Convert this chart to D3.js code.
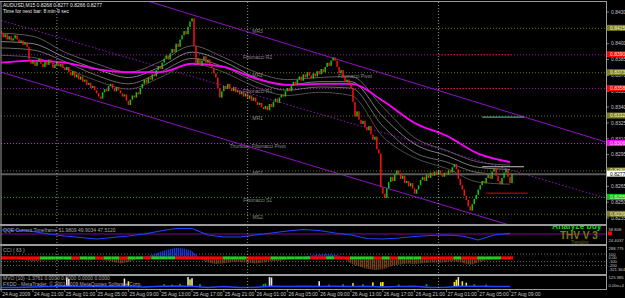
<!DOCTYPE html>
<html>
<head>
<meta charset="utf-8">
<script src="https://cdn.jsdelivr.net/npm/d3@7"></script>
<style>
  body { margin: 0; background: #000; }
  svg { display: block; font-family: "Liberation Sans", Arial, sans-serif; }
</style>
</head>
<body>
<div id="vis"></div>
<script>
// ---- data (prices written in pips, 8410 = 0.8410) ----
const SYMBOL = 'AUDUSD,M15';
const LAST_OHLC = [0.8268, 0.8277, 0.8266, 0.8277];
const NEXT_BAR = 'Time for next bar: 8 min 9 sec';

const FIRST_OPEN = 8412;
// one close per 15 minute bar, 24 Aug 17:00 -> 27 Aug 09:15
const CLOSES = [
  8410, 8406, 8409, 8404, 8407, 8403, 8405, 8408, 8404, 8401, 8403, 8399, 8401, 8397, 8385, 8381,
  8384, 8379, 8383, 8386, 8381, 8378, 8383, 8380, 8385, 8382, 8377, 8380, 8383, 8379, 8381, 8377,
  8375, 8378, 8373, 8370, 8374, 8368, 8371, 8366, 8369, 8364, 8366, 8361, 8363, 8358, 8360, 8356,
  8353, 8350, 8348, 8354, 8357, 8355, 8360, 8362, 8358, 8355, 8359, 8356, 8353, 8350, 8352, 8346,
  8342, 8347, 8351, 8349, 8354, 8352, 8358, 8362, 8366, 8363, 8368, 8366, 8371, 8369, 8375, 8379,
  8376, 8382, 8386, 8389, 8385, 8391, 8395, 8392, 8400, 8397, 8404, 8408, 8412, 8409, 8416, 8421,
  8424, 8398, 8381, 8386, 8379, 8384, 8388, 8382, 8385, 8380, 8377, 8372, 8368, 8358, 8349, 8355,
  8360, 8357, 8362, 8358, 8355, 8359, 8354, 8356, 8352, 8355, 8350, 8353, 8348, 8351, 8346, 8349,
  8345, 8342, 8344, 8340, 8338, 8341, 8337, 8343, 8340, 8345, 8348, 8344, 8349, 8352, 8350, 8355,
  8358, 8355, 8360, 8364, 8361, 8366, 8369, 8365, 8371, 8368, 8373, 8370, 8367, 8372, 8369, 8374,
  8371, 8376, 8373, 8378, 8382, 8379, 8384, 8387, 8384, 8378, 8372, 8375, 8368, 8364, 8366, 8361,
  8358, 8345, 8331, 8336, 8328, 8324, 8327, 8321, 8318, 8322, 8314, 8309, 8312, 8300, 8296, 8264,
  8258, 8254, 8263, 8269, 8274, 8270, 8276, 8280, 8277, 8272, 8275, 8268, 8270, 8265, 8268, 8263,
  8258, 8262, 8266, 8271, 8274, 8270, 8276, 8273, 8278, 8275, 8279, 8276, 8280, 8277, 8274, 8278,
  8276, 8280, 8278, 8283, 8286, 8281, 8272, 8266, 8262, 8256, 8252, 8246, 8242, 8248, 8253, 8257,
  8262, 8266, 8270, 8268, 8273, 8276, 8272, 8279, 8282, 8275, 8270, 8267, 8273, 8278, 8281, 8274, 8268, 8277
];

// moving average ribbon, sampled every 16 bars
const RIBBON_A = [8410, 8407, 8392, 8381, 8373, 8383, 8398, 8387, 8373, 8366, 8368, 8369, 8340, 8311, 8299, 8288, 8285];
const RIBBON_B = [8402, 8400, 8387, 8376, 8368, 8378, 8392, 8383, 8368, 8361, 8364, 8364, 8331, 8305, 8294, 8283, 8281];
const RIBBON_C = [8396, 8394, 8383, 8370, 8362, 8373, 8386, 8378, 8364, 8356, 8359, 8358, 8322, 8297, 8288, 8278, 8276];
const RIBBON_D = [8389, 8387, 8377, 8365, 8357, 8368, 8381, 8373, 8359, 8351, 8354, 8351, 8312, 8292, 8282, 8269, 8267];
const MA_SLOW  = [8382, 8384, 8382, 8376, 8373, 8373, 8381, 8378, 8367, 8361, 8362, 8362, 8346, 8325, 8313, 8296, 8288];

// channel lines: [bar, price] at both ends
const CHANNEL_UPPER = [[0, 8483], [304, 8307]];
const CHANNEL_MID = [[0, 8422], [304, 8254]];
const CHANNEL_LOWER = [[0, 8373], [304, 8201]];

// pivot levels
const PIVOT_NAMES = ['MR3', 'Fibonacci R2', 'MR2', 'Fibonacci R1', 'MR1', 'Thursday Fibonacci Pivot', 'MS1', 'Fibonacci S1', 'MS2'];
const PIVOT_VALUES = [8415, 8390, 8373, 8358, 8332, 8306, 8280, 8255, 8239];
const PIVOT_KINDS = ['mr', 'fr', 'mr', 'fr', 'mr', 'fp', 'mr', 'fs', 'mr'];
const OLD_PIVOT_NAME = 'Fibonacci Pivot';
const OLD_PIVOT_VALUE = 8372;

// short day levels at the right
const DAY_LEVELS = [8331, 8284, 8259];
const DAY_KINDS = ['hi', 'mid', 'lo'];

// price axis ticks
const PRICE_TICKS = [8430, 8415, 8400, 8385, 8370, 8355, 8340, 8325, 8310, 8295, 8280, 8265, 8250, 8235];

// time axis
const TIME_LABELS = ['24 Aug 2009', '24 Aug 21:00', '25 Aug 01:00', '25 Aug 05:00', '25 Aug 09:00', '25 Aug 13:00',
  '25 Aug 17:00', '25 Aug 21:00', '26 Aug 01:00', '26 Aug 05:00', '26 Aug 09:00', '26 Aug 13:00',
  '26 Aug 17:00', '26 Aug 21:00', '27 Aug 01:00', '27 Aug 05:00', '27 Aug 09:00'];
const DAY_START_BARS = [28, 124, 220];

// QQE, sampled every 8 bars
const QQE_TITLE = 'QQE Current Timeframe 51.9809 49.9034 47.5120';
const QQE = [63.3, 63.3, 58.3, 50, 43.3, 38.3, 33.3, 38.3, 43.3, 50, 60, 68.3, 68.3, 46.7, 40, 40, 46.7,
  53.3, 60, 65, 61.7, 53.3, 46.7, 35, 33.3, 36.7, 41.7, 45, 46.7, 43.3, 30, 46.7, 52.0];
const QQE_LEVEL = 50;
const QQE_AXIS = ['58.808', '24.4037'];

// CCI(63), sampled every 4 bars, with trend colour of the zero band
const CCI_TITLE = 'CCI ( 63 )';
const CCI = [20, 10, -20, -60, -90, -70, -60, -50, -40, -60, -50, -70, -40, -60, -100, -150, -110, -40, 40, 80,
  160, 220, 270, 250, 180, -30, -120, -160, -140, -110, -100, -130, -150, -120, -90, -80, -40, 10, 30, 60,
  90, 100, 80, 40, -150, -230, -290, -320, -300, -220, -180, -150, -160, -140, -120, -130, -110, -90, -130, -180,
  -120, -60, -40, -30, -20];
const CCI_TREND = 'rrrrrggggrggrggrggrgggrrrrrrgggrrrgggggrrgrrgggrgrgggrrrrgrrgggrr'.split('');
const CCI_MAX = 288.775;
const CCI_MIN = -321.364;
const CCI_LEVELS = [100, -100, -200];

// MVO(10) and volume spikes
const MVO_TITLE = 'MVO (10) -1.3761 0.0000 0.0000 0.0000 0.0000';
const COPYRIGHT = 'FXDD - MetaTrader, \u00a9 2001-2009 MetaQuotes Software Corp.';
const MVO = [-12, -12, -8, 0, 2, 0, 3, 0, 0, -8, 4, 6, 2, -12, 0, -12, -10, 4, 0, 3, 0, 2, 0, 3, -5, 0, 2, -12, -10, 4, 2, 0, 0];
const VOL_BARS = [33, 34, 62, 64, 82, 86, 90, 94, 95, 96, 100, 132, 133, 135, 136, 160, 165, 172, 177, 182, 187, 191, 192, 200, 214, 228, 229, 230, 232, 234, 238, 244];
const VOL_VALUES = [120, 100, 105, 70, 30, 25, 35, 125, 95, 110, 30, 30, 40, 125, 120, 70, 25, 30, 45, 30, 55, 55, 60, 25, 30, 60, 90, 125, 70, 50, 30, 25];
const VOL_KINDS = ['w', 'w', 'w', 'y', 'g', 'g', 'g', 'w', 'y', 'w', 'g', 'g', 'g', 'w', 'w', 'w', 'g', 'g', 'y', 'g', 'y', 'y', 'y', 'g', 'g', 'y', 'y', 'w', 'y', 'y', 'g', 'g'];
const VOL_MAX = 125.985;

// ---- setting up the frame ----
const FRAME_WIDTH = 625;
const FRAME_HEIGHT = 298;
const LEFT = 1;
const RIGHT = 606;
const PANELS = {main: [2, 224], qqe: [226, 244], cci: [246, 274], vol: [276, 289]};

const FRAME = d3.select('#vis')
  .append('svg')
    .attr('width', FRAME_WIDTH)
    .attr('height', FRAME_HEIGHT)
    .style('background', '#000');

const X_SCALE = d3.scaleLinear().domain([0, CLOSES.length - 1]).range([1.2, 512]);
const Y_SCALE = d3.scaleLinear().domain([8235, 8430]).range([218, 12]);
const QQE_SCALE = d3.scaleLinear().domain([20, 73.3]).range([243, 227]);
const CCI_SCALE = d3.scaleLinear().domain([CCI_MIN, CCI_MAX]).range([270, 247]);
const VOL_SCALE = d3.scaleLinear().domain([0, VOL_MAX]).range([286.5, 277]);

const fmt = (p) => (p / 10000).toFixed(4);

// clip paths for each window
const DEFS = FRAME.append('defs');
Object.keys(PANELS).forEach((k) => {
  DEFS.append('clipPath').attr('id', 'clip-' + k)
    .append('rect')
      .attr('x', LEFT).attr('y', PANELS[k][0])
      .attr('width', RIGHT - LEFT).attr('height', PANELS[k][1] - PANELS[k][0]);
});
function stripes(id, color) {
  DEFS.append('pattern').attr('id', id)
    .attr('patternUnits', 'userSpaceOnUse').attr('width', 2).attr('height', 4)
    .append('rect').attr('x', 0.2).attr('width', 1.1).attr('height', 4).attr('fill', color);
}
stripes('stripe-blue', '#1f3cff');
stripes('stripe-brown', '#8b4a22');

const MAIN = FRAME.append('g').attr('clip-path', 'url(#clip-main)');

// ---- main window ----
const PIVOT_LINE = {mr: '#6e6e00', fr: '#9a10b4', fp: '#d020d0', fs: '#2ea02e'};
const PIVOT_BOX = {mr: '#7d7d1e', fr: '#ff0000', fp: '#ff00ff', fs: '#10c010'};

// pivot dotted lines
MAIN.selectAll('.pivot')
  .data(PIVOT_VALUES)
  .enter()
  .append('line')
    .attr('x1', LEFT).attr('x2', RIGHT)
    .attr('y1', (d) => Y_SCALE(d) + 0.5).attr('y2', (d) => Y_SCALE(d) + 0.5)
    .attr('stroke', (d, i) => PIVOT_LINE[PIVOT_KINDS[i]])
    .attr('stroke-dasharray', '1,2');

// today's part of the fibonacci resistances is red
MAIN.selectAll('.pivot-today')
  .data(PIVOT_VALUES.filter((d, i) => PIVOT_KINDS[i] === 'fr'))
  .enter()
  .append('line')
    .attr('x1', X_SCALE(DAY_START_BARS[2])).attr('x2', X_SCALE(CLOSES.length - 1))
    .attr('y1', (d) => Y_SCALE(d) + 0.5).attr('y2', (d) => Y_SCALE(d) + 0.5)
    .attr('stroke', '#ff1a1a')
    .attr('stroke-dasharray', '1,2');

// pivot names
MAIN.selectAll('.pivot-name')
  .data(PIVOT_VALUES)
  .enter()
  .append('text')
    .attr('x', X_SCALE(129))
    .attr('y', (d) => Y_SCALE(d) + 4.8)
    .attr('text-anchor', 'middle')
    .attr('font-size', '5px')
    .attr('fill', '#8a8a8a')
    .text((d, i) => PIVOT_NAMES[i]);
MAIN.append('text')
  .attr('x', X_SCALE(178)).attr('y', Y_SCALE(OLD_PIVOT_VALUE) + 4.8)
  .attr('text-anchor', 'middle').attr('font-size', '5px').attr('fill', '#8a8a8a')
  .text(OLD_PIVOT_NAME);

// channel lines
const chan = d3.line().x((d) => X_SCALE(d[0])).y((d) => Y_SCALE(d[1]));
[[CHANNEL_UPPER, null], [CHANNEL_MID, '1.5,2'], [CHANNEL_LOWER, null]].forEach((c) => {
  MAIN.append('path')
    .attr('d', chan(c[0]))
    .attr('fill', 'none')
    .attr('stroke', '#9010c8')
    .attr('stroke-width', 1)
    .attr('stroke-dasharray', c[1]);
});

// ribbon and slow average
const SAMPLE16 = d3.range(0, CLOSES.length, 16);
const smooth = d3.line().x((d) => X_SCALE(d[0])).y((d) => Y_SCALE(d[1])).curve(d3.curveMonotoneX);
[[RIBBON_A, '#808080'], [RIBBON_B, '#b4b4b4'], [RIBBON_C, '#969696'], [RIBBON_D, '#707070']].forEach((r) => {
  MAIN.append('path')
    .attr('d', smooth(SAMPLE16.map((b, i) => [b, r[0][i]])))
    .attr('fill', 'none')
    .attr('stroke', r[1])
    .attr('stroke-width', 0.7);
});
MAIN.append('path')
  .attr('d', smooth(SAMPLE16.map((b, i) => [b, MA_SLOW[i]])))
  .attr('fill', 'none')
  .attr('stroke', '#ff00ff')
  .attr('stroke-width', 1.8);

// bid line
const LAST = CLOSES[CLOSES.length - 1];
MAIN.append('line')
  .attr('x1', LEFT).attr('x2', RIGHT)
  .attr('y1', Y_SCALE(LAST) + 0.5).attr('y2', Y_SCALE(LAST) + 0.5)
  .attr('stroke', '#5a5a5a').attr('stroke-width', 2);

// candles
const CANDLES = CLOSES.map((c, i) => ({i: i, open: i === 0 ? FIRST_OPEN : CLOSES[i - 1], close: c}));
MAIN.selectAll('.candle')
  .data(CANDLES)
  .enter()
  .append('rect')
    .attr('x', (d) => X_SCALE(d.i) - 0.75)
    .attr('width', 1.5)
    .attr('y', (d) => Y_SCALE(Math.max(d.open, d.close)))
    .attr('height', (d) => Math.max(1, Math.abs(Y_SCALE(d.open) - Y_SCALE(d.close))))
    .attr('fill', (d) => d.close >= d.open ? '#10c810' : '#ff1010');

// short day levels
const DAY_COLOR = {hi: '#6cc0b0', mid: '#c4c4c4', lo: '#e00000'};
MAIN.selectAll('.day-level')
  .data(DAY_LEVELS)
  .enter()
  .append('line')
    .attr('x1', (d, i) => X_SCALE(CLOSES.length - (DAY_KINDS[i] === 'lo' ? 14 : 16)))
    .attr('x2', (d, i) => X_SCALE(CLOSES.length + (DAY_KINDS[i] === 'lo' ? 7 : 5)))
    .attr('y1', (d) => Y_SCALE(d) + 0.5).attr('y2', (d) => Y_SCALE(d) + 0.5)
    .attr('stroke', (d, i) => DAY_COLOR[DAY_KINDS[i]])
    .attr('stroke-width', 1);

// chart titles
FRAME.append('text').attr('x', 3).attr('y', 7).attr('font-size', '5px').attr('fill', '#e8e8e8')
  .text(SYMBOL + '  ' + LAST_OHLC.map((d) => d.toFixed(4)).join(' '));
FRAME.append('text').attr('x', 3).attr('y', 12.5).attr('font-size', '5px').attr('fill', '#e8e8e8')
  .text(NEXT_BAR);

// ---- QQE window ----
const QQE_G = FRAME.append('g').attr('clip-path', 'url(#clip-qqe)');
QQE_G.append('line')
  .attr('x1', LEFT).attr('x2', RIGHT)
  .attr('y1', QQE_SCALE(QQE_LEVEL)).attr('y2', QQE_SCALE(QQE_LEVEL))
  .attr('stroke', '#7a0a9a').attr('stroke-width', 1);
const SAMPLE8 = d3.range(0, CLOSES.length, 8);
QQE_G.append('path')
  .attr('d', d3.line().x((d) => X_SCALE(d[0])).y((d) => QQE_SCALE(d[1]))(SAMPLE8.map((b, i) => [b, QQE[i]])))
  .attr('fill', 'none').attr('stroke', '#1f44ff').attr('stroke-width', 1.2);
QQE_G.append('text').attr('x', 3).attr('y', 232).attr('font-size', '5px').attr('fill', '#a8a8a8').text(QQE_TITLE);
QQE_G.append('text').attr('x', 552).attr('y', 229).attr('font-size', '8.5px').attr('font-weight', 'bold')
  .attr('fill', '#22d022').text('Analyze buy');
QQE_G.append('text').attr('x', 560).attr('y', 238.5).attr('font-size', '10px').attr('font-weight', 'bold')
  .attr('fill', '#7a7a10').text('THV V 3');
QQE_G.append('text').attr('x', 571).attr('y', 243.5).attr('font-size', '4.5px')
  .attr('fill', '#6e6e10').text('Trending');

// ---- CCI window ----
const CCI_G = FRAME.append('g').attr('clip-path', 'url(#clip-cci)');
const SAMPLE4 = d3.range(0, CLOSES.length, 4);
CCI_G.selectAll('.cci-level')
  .data(CCI_LEVELS)
  .enter()
  .append('line')
    .attr('x1', LEFT).attr('x2', RIGHT)
    .attr('y1', (d) => CCI_SCALE(d)).attr('y2', (d) => CCI_SCALE(d))
    .attr('stroke', '#9a9a9a').attr('stroke-width', 0.7).attr('stroke-dasharray', '1,2');
const cciPts = SAMPLE4.map((b, i) => [b, CCI[i]]);
CCI_G.append('path')
  .attr('d', d3.area().x((d) => X_SCALE(d[0])).y0(CCI_SCALE(0)).y1((d) => CCI_SCALE(Math.max(0, d[1])))(cciPts))
  .attr('fill', 'url(#stripe-blue)');
CCI_G.append('path')
  .attr('d', d3.area().x((d) => X_SCALE(d[0])).y0(CCI_SCALE(0)).y1((d) => CCI_SCALE(Math.min(0, d[1])))(cciPts))
  .attr('fill', 'url(#stripe-brown)');
CCI_G.selectAll('.cci-band')
  .data(CCI_TREND)
  .enter()
  .append('rect')
    .attr('x', (d, i) => X_SCALE(SAMPLE4[i]) - 1)
    .attr('width', (d, i) => X_SCALE(Math.min(SAMPLE4[i] + 4, CLOSES.length)) - X_SCALE(SAMPLE4[i]))
    .attr('y', CCI_SCALE(0) - 1.5)
    .attr('height', 3)
    .attr('fill', (d) => d === 'r' ? '#ff0000' : '#22cc22');
CCI_G.append('text').attr('x', 3).attr('y', 251.5).attr('font-size', '5px').attr('fill', '#a8a8a8').text(CCI_TITLE);

// ---- volume window ----
const VOL_G = FRAME.append('g').attr('clip-path', 'url(#clip-vol)');
const VOL_COLOR = {w: '#e6e6e6', y: '#f0f000', g: '#10c010'};
VOL_G.selectAll('.vol')
  .data(VOL_BARS)
  .enter()
  .append('rect')
    .attr('x', (d) => X_SCALE(d) - 0.8)
    .attr('width', 1.6)
    .attr('y', (d, i) => VOL_SCALE(VOL_VALUES[i]))
    .attr('height', (d, i) => VOL_SCALE(0) - VOL_SCALE(VOL_VALUES[i]))
    .attr('fill', (d, i) => VOL_COLOR[VOL_KINDS[i]]);
VOL_G.append('path')
  .attr('d', d3.line().x((d) => X_SCALE(d[0])).y((d) => VOL_SCALE(d[1]))(SAMPLE8.map((b, i) => [b, MVO[i]])))
  .attr('fill', 'none').attr('stroke', '#1f44ff').attr('stroke-width', 1.5);
VOL_G.append('text').attr('x', 3).attr('y', 279.5).attr('font-size', '5px').attr('fill', '#a8a8a8').text(MVO_TITLE);
VOL_G.append('text').attr('x', 3).attr('y', 286).attr('font-size', '5px').attr('fill', '#a8a8a8').text(COPYRIGHT);

// ---- day separators over all windows ----
FRAME.selectAll('.day-sep')
  .data(DAY_START_BARS)
  .enter()
  .append('line')
    .attr('x1', (d) => X_SCALE(d)).attr('x2', (d) => X_SCALE(d))
    .attr('y1', PANELS.main[0]).attr('y2', PANELS.vol[1])
    .attr('stroke', '#b4b4b4').attr('stroke-width', 0.8).attr('stroke-dasharray', '1,2');

// ---- borders ----
const BORDER = '#9a9a9a';
[PANELS.main[1] + 1, PANELS.qqe[1] + 1, PANELS.cci[1] + 1].forEach((y) => {
  FRAME.append('line').attr('x1', 0).attr('x2', RIGHT).attr('y1', y).attr('y2', y)
    .attr('stroke', BORDER).attr('stroke-width', 2);
});
FRAME.append('line').attr('x1', 0).attr('x2', RIGHT).attr('y1', 1.5).attr('y2', 1.5).attr('stroke', BORDER);
FRAME.append('line').attr('x1', 0).attr('x2', RIGHT).attr('y1', 289.5).attr('y2', 289.5).attr('stroke', BORDER);
FRAME.append('line').attr('x1', 1).attr('x2', 1).attr('y1', 1.5).attr('y2', 289.5).attr('stroke', BORDER);
FRAME.append('line').attr('x1', RIGHT + 0.5).attr('x2', RIGHT + 0.5).attr('y1', 1).attr('y2', 290).attr('stroke', BORDER);

// ---- price axis ----
const AXIS_TEXT = '#c4c4c4';
const LAST_VALUE = CLOSES[CLOSES.length - 1];
const BOX_VALUES = PIVOT_VALUES.concat([LAST_VALUE]);
// ticks hidden under a coloured box are not drawn
const VISIBLE_TICKS = PRICE_TICKS.filter((t) => BOX_VALUES.every((v) => Math.abs(Y_SCALE(t) - Y_SCALE(v)) > 3));
FRAME.selectAll('.ptick')
  .data(VISIBLE_TICKS)
  .enter()
  .append('text')
    .attr('x', RIGHT + 5).attr('y', (d) => Y_SCALE(d) + 1.8)
    .attr('font-size', '5px').attr('fill', AXIS_TEXT)
    .text(fmt);
FRAME.selectAll('.ptick-mark')
  .data(PRICE_TICKS)
  .enter()
  .append('line')
    .attr('x1', RIGHT).attr('x2', RIGHT + 3)
    .attr('y1', (d) => Y_SCALE(d)).attr('y2', (d) => Y_SCALE(d))
    .attr('stroke', AXIS_TEXT).attr('stroke-width', 0.6);

// coloured level boxes on the axis
const BOXES = PIVOT_VALUES.map((v, i) => ({v: v, fill: PIVOT_BOX[PIVOT_KINDS[i]], text: '#f2f2d8'}))
  .concat([{v: LAST_VALUE, fill: '#ffffff', text: '#000000'}]);
const boxG = FRAME.selectAll('.box').data(BOXES).enter().append('g');
boxG.append('rect')
  .attr('x', RIGHT + 1).attr('width', FRAME_WIDTH - RIGHT - 1)
  .attr('y', (d) => Y_SCALE(d.v) - 3).attr('height', 6)
  .attr('fill', (d) => d.fill);
boxG.append('text')
  .attr('x', RIGHT + 4).attr('y', (d) => Y_SCALE(d.v) + 1.9)
  .attr('font-size', '5px').attr('fill', (d) => d.text)
  .text((d) => fmt(d.v));

// sub window axis labels
const SUB_LABELS = [
  [QQE_AXIS[0], PANELS.qqe[0] + 4.5], [QQE_AXIS[1], PANELS.qqe[1] - 2],
  [CCI_MAX.toFixed(3), CCI_SCALE(CCI_MAX) + 3], ['100', CCI_SCALE(100) + 1.5], ['0.00', CCI_SCALE(0) + 1.5],
  ['-100', CCI_SCALE(-100) + 1.5], ['-200', CCI_SCALE(-200) + 1.5], [CCI_MIN.toFixed(3), CCI_SCALE(CCI_MIN) + 1],
  [VOL_MAX.toFixed(3), VOL_SCALE(VOL_MAX) + 2], ['0.00e+4', VOL_SCALE(0)]
];
FRAME.selectAll('.sub-label')
  .data(SUB_LABELS)
  .enter()
  .append('text')
    .attr('x', RIGHT + 2.5).attr('y', (d) => d[1])
    .attr('font-size', '4.2px').attr('fill', AXIS_TEXT)
    .text((d) => d[0]);
FRAME.append('rect').attr('x', RIGHT + 2).attr('y', QQE_SCALE(QQE[QQE.length - 1]) - 2)
  .attr('width', 4).attr('height', 4).attr('fill', '#ff0000');

// ---- time axis ----
FRAME.selectAll('.tlabel')
  .data(TIME_LABELS)
  .enter()
  .append('text')
    .attr('x', (d, i) => X_SCALE(i * 16) + 1)
    .attr('y', 296)
    .attr('font-size', '5px').attr('fill', AXIS_TEXT)
    .text((d) => d);
FRAME.selectAll('.tmark')
  .data(TIME_LABELS)
  .enter()
  .append('line')
    .attr('x1', (d, i) => X_SCALE(i * 16)).attr('x2', (d, i) => X_SCALE(i * 16))
    .attr('y1', 289.5).attr('y2', 292)
    .attr('stroke', AXIS_TEXT).attr('stroke-width', 0.6);
</script>
</body>
</html>
